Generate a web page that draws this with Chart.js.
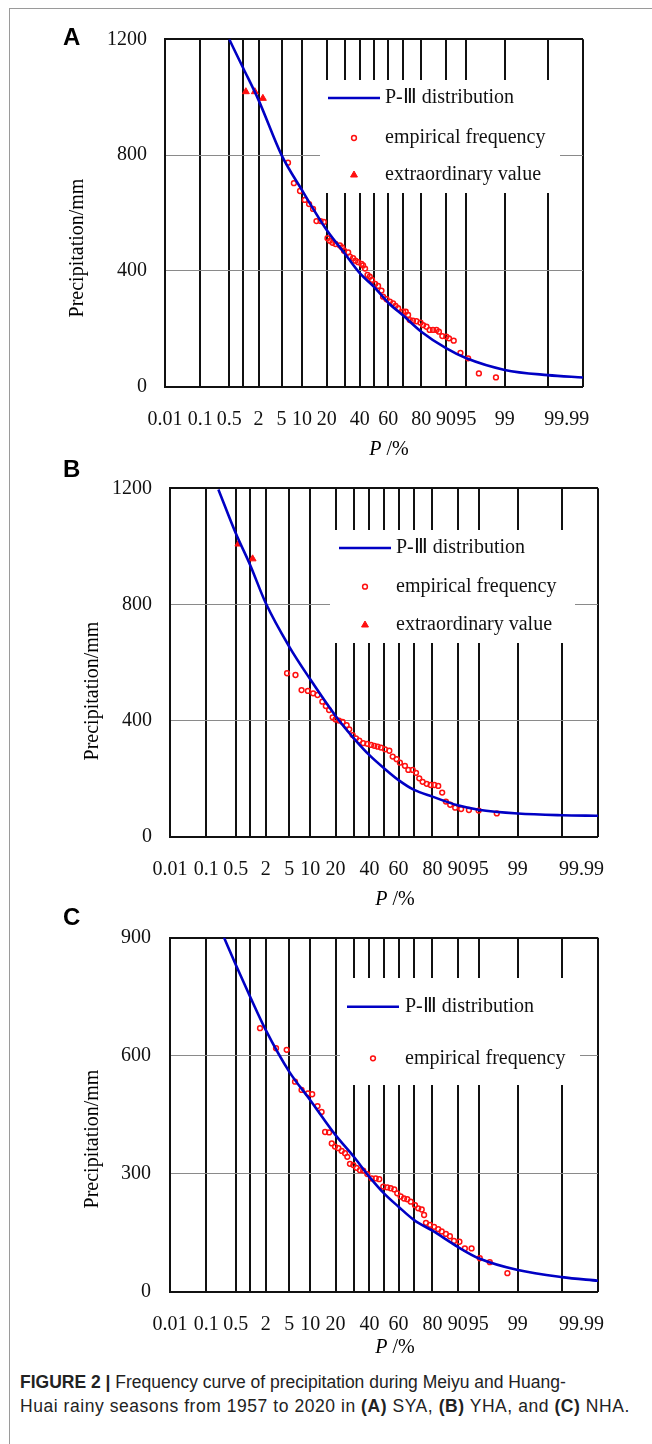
<!DOCTYPE html>
<html>
<head>
<meta charset="utf-8">
<script src="https://cdn.jsdelivr.net/npm/chart.js@4.4.1/dist/chart.umd.min.js"></script>
<style>
body{margin:0;width:652px;height:1444px;background:#fff;position:relative;overflow:hidden;font-family:'Liberation Serif','Times New Roman',serif}
.frame{position:absolute;left:9px;top:8px;width:800px;height:1600px;border-left:1px solid #9a9a9a;border-top:1px solid #9a9a9a}
canvas{position:absolute;left:0}
.tag{position:absolute;left:63px;font:bold 24px 'Liberation Sans',Arial,sans-serif;line-height:24px}
.yt{position:absolute;font-size:20px;white-space:nowrap;transform:translate(-50%,-50%) rotate(-90deg)}
.xt{position:absolute;font-size:20px;white-space:nowrap;transform:translate(-50%,-50%)}
.cap{position:absolute;left:20px;top:1370px;font:17.5px 'Liberation Sans',Arial,sans-serif;line-height:24px;color:#222;white-space:nowrap}
.cap span{letter-spacing:0.55px}
</style>
</head>
<body>
<div class="frame"></div>
<canvas id="cA" width="652" height="450" style="top:0"></canvas>
<canvas id="cB" width="652" height="450" style="top:450px"></canvas>
<canvas id="cC" width="652" height="450" style="top:900px"></canvas>

<div class="tag" style="top:25px">A</div>
<div class="tag" style="top:457px">B</div>
<div class="tag" style="top:905px">C</div>
<div class="yt" style="left:76px;top:248px">Precipitation/mm</div>
<div class="yt" style="left:91px;top:691px">Precipitation/mm</div>
<div class="yt" style="left:91px;top:1139px">Precipitation/mm</div>
<div class="xt" style="left:389px;top:448px"><i>P</i> /%</div>
<div class="xt" style="left:395px;top:898px"><i>P</i> /%</div>
<div class="xt" style="left:395px;top:1346px"><i>P</i> /%</div>
<div class="cap"><b>FIGURE 2 |</b> Frequency curve of precipitation during Meiyu and Huang-<br><span>Huai rainy seasons from 1957 to 2020 in <b>(A)</b> SYA, <b>(B)</b> YHA, and <b>(C)</b> NHA.</span></div>

<script>
// probability-paper axis (P in %)
const gridP=[0.01,0.1,0.5,1,2,5,10,20,30,40,50,60,70,80,90,95,99,99.9,99.99];
const xLabels=['0.01','0.1','0.5','2','5','10','20','40','60','80','90','95','99','99.99'];
const xLabelPos=[0.01,0.1,0.5,2,5,10,20,40,60,80,90,95,99,99.97];

// A — SYA
const curveA_P=[0.5,1,2,5,10,20,30,40,50,60,70,80,90,95,99,99.9,99.99];
const curveA_V=[1200,1100,990,800,679,541,461,392,345,290,245,190,133,98,58,40,32];
const empA_P=[6.3,7.7,9.4,10.9,12.4,13.9,15.3,17.1,18.6,20.4,21.6,23.0,24.7,27.2,28.5,29.7,32.3,33.4,35.5,37.1,38.9,41.2,42.3,43.7,45.4,47.0,48.6,50.8,52.9,55.3,56.4,58.8,61.1,63.3,64.9,66.6,69.8,71.4,72.8,73.8,75.6,77.5,79.6,80.9,82.5,83.9,85.3,86.7,87.6,88.8,90.1,90.9,92.2,93.8,95.3,96.9,98.5];
const empA_V=[774,703,676,645,631,614,572,572,569,513,504,497,493,488,481,470,464,449,444,435,430,424,419,408,386,380,369,355,348,332,311,302,294,288,279,271,259,259,248,230,228,226,221,213,207,196,196,196,190,175,173,167,159,117,98,46,32];
const extA_P=[1.13,1.7,2.4];
const extA_V=[1019,1019,996];

// B — YHA
const curveB_P=[0.2,0.5,1,2,5,10,20,30,40,50,60,70,80,90,95,99,99.9,99.99];
const curveB_V=[1196,1045,936,804,654,542,416,339,281,236,195,161,138,108,93,80,74,72];
const empB_P=[4.6,6.2,7.6,9.3,10.9,12.4,14.2,15.6,17.0,18.6,20.0,21.7,23.6,25.8,27.3,29.3,31.3,33.4,35.9,38.6,41.1,43.3,45.6,47.9,50.7,53.7,56.0,58.7,60.9,64.2,66.4,69.1,71.1,73.0,74.9,77.1,79.1,80.9,82.7,84.4,85.9,87.5,89.2,91.0,93.0,95.0,97.5];
const empB_V=[563,557,505,502,494,488,465,450,436,411,404,400,395,384,370,350,339,331,322,320,316,313,310,307,301,296,276,267,255,244,230,230,220,201,189,182,178,178,175,152,121,110,100,95,92,90,80];
const extB_P=[0.57,1.12];
const extB_V=[1008,957];

// C — NHA
const curveC_P=[0.27,0.5,1,2,5,10,20,30,40,50,60,70,80,90,95,99,99.9,99.99];
const curveC_V=[901,831,750,665,559,487,398,343,292,250,216,182,155,114,85,55,37,28];
const empC_P=[1.56,3.03,4.54,6.1,7.6,9.3,10.6,12.4,13.9,15.3,17.0,18.2,19.7,21.4,23.1,24.9,26.2,27.7,29.7,31.7,33.8,35.9,38.6,41.5,44.3,46.7,49.5,52.3,54.6,57.1,59.1,61.4,63.6,65.7,67.9,70.5,72.4,74.4,75.7,76.7,78.8,80.8,82.7,84.2,85.9,87.4,88.8,90.5,92.0,93.6,95.2,96.7,98.4];
const empC_V=[670,619,615,534,513,504,502,472,457,406,405,377,369,365,358,352,343,325,322,315,309,308,299,288,288,286,267,265,263,260,250,242,237,235,229,220,212,209,195,175,170,165,159,153,147,141,129,127,110,110,85,75,47];

// inverse normal CDF (Acklam) -> probability axis transform
function qnorm(p){
  const a=[-3.969683028665376e+01,2.209460984245205e+02,-2.759285104469687e+02,1.383577518672690e+02,-3.066479806614716e+01,2.506628277459239e+00];
  const b=[-5.447609879822406e+01,1.615858368580409e+02,-1.556989798598866e+02,6.680131188771972e+01,-1.328068155288572e+01];
  const c=[-7.784894002430293e-03,-3.223964580411365e-01,-2.400758277161838e+00,-2.549732539343734e+00,4.374664141464968e+00,2.938163982698783e+00];
  const d=[7.784695709041462e-03,3.224671290700398e-01,2.445134137142996e+00,3.754408661907416e+00];
  let q,r;
  if(p<0.02425){q=Math.sqrt(-2*Math.log(p));return (((((c[0]*q+c[1])*q+c[2])*q+c[3])*q+c[4])*q+c[5])/((((d[0]*q+d[1])*q+d[2])*q+d[3])*q+1);}
  if(p<=1-0.02425){q=p-0.5;r=q*q;return (((((a[0]*r+a[1])*r+a[2])*r+a[3])*r+a[4])*r+a[5])*q/(((((b[0]*r+b[1])*r+b[2])*r+b[3])*r+b[4])*r+1);}
  q=Math.sqrt(-2*Math.log(1-p));return -(((((c[0]*q+c[1])*q+c[2])*q+c[3])*q+c[4])*q+c[5])/((((d[0]*q+d[1])*q+d[2])*q+d[3])*q+1);
}
const z=P=>qnorm(P/100);
const pts=(P,V)=>P.map((p,i)=>({x:z(p),y:V[i]}));
const zLo=z(0.01), zHi=z(99.99);

const tickFont={family:"'Liberation Serif','Times New Roman',serif",size:20};

// legend drawn inside the plot over a white box
const boxLegend={
  id:'boxLegend',
  afterDraw(chart,args,o){
    const ctx=chart.ctx;
    ctx.save();
    ctx.fillStyle='#fff';
    ctx.fillRect(o.x,o.y,o.w,o.h);
    ctx.font="20px 'Liberation Serif','Times New Roman',serif";
    ctx.textBaseline='middle';
    chart.data.datasets.forEach((ds,i)=>{
      const y=o.rows[i];
      if(ds.showLine){
        ctx.strokeStyle=ds.borderColor;ctx.lineWidth=ds.borderWidth;
        ctx.beginPath();ctx.moveTo(o.cx-26,y);ctx.lineTo(o.cx+26,y);ctx.stroke();
      }else{
        ctx.fillStyle=ds.backgroundColor;ctx.strokeStyle=ds.borderColor;ctx.lineWidth=ds.borderWidth;
        Chart.helpers.drawPoint(ctx,{pointStyle:ds.pointStyle,radius:ds.pointRadius,borderWidth:ds.borderWidth,rotation:0},o.cx,y);
      }
      ctx.fillStyle='#111';
      ctx.fillText(ds.label,o.tx,y);
    });
    ctx.restore();
  }
};

function panel(id,cfg,curveP,curveV,empP,empV,extP,extV){
  const ds=[
    {label:'P-Ⅲ distribution',data:pts(curveP,curveV),showLine:true,borderColor:'#0000c4',backgroundColor:'#0000c4',borderWidth:2.6,pointRadius:0,cubicInterpolationMode:'monotone'},
    {label:'empirical frequency',data:pts(empP,empV),showLine:false,pointStyle:'circle',pointRadius:2.4,borderWidth:1.5,borderColor:'#ff1010',backgroundColor:'rgba(255,255,255,0)'}
  ];
  if(extP) ds.push({label:'extraordinary value',data:pts(extP,extV),showLine:false,pointStyle:'triangle',pointRadius:4,borderWidth:1,borderColor:'#ff1010',backgroundColor:'#ff1010'});
  new Chart(document.getElementById(id),{
    type:'scatter',
    data:{datasets:ds},
    plugins:[boxLegend],
    options:{
      responsive:false,animation:false,devicePixelRatio:1,
      layout:{padding:{left:0,top:cfg.top,right:cfg.right,bottom:0}},
      plugins:{legend:{display:false},tooltip:{enabled:false},boxLegend:cfg.legend},
      scales:{
        x:{type:'linear',min:zLo,max:zHi,position:'bottom',
          afterBuildTicks:s=>{s.ticks=gridP.map(p=>({value:z(p)}));},
          ticks:{display:false},
          grid:{color:'#111',lineWidth:2,drawTicks:false},
          border:{display:false},
          afterFit:s=>{s.height=0;s.paddingLeft=0;s.paddingRight=0;}},
        xl:{type:'linear',min:zLo,max:zHi,position:'bottom',
          afterBuildTicks:s=>{s.ticks=xLabelPos.map(p=>({value:z(p)}));},
          ticks:{autoSkip:false,maxRotation:0,padding:21,color:'#111',font:tickFont,callback:(v,i)=>xLabels[i]},
          grid:{display:false,drawTicks:false},
          border:{display:false},
          afterFit:s=>{s.height=cfg.xh;s.paddingLeft=0;s.paddingRight=0;}},
        y:{min:0,max:cfg.ymax,
          ticks:{stepSize:cfg.ystep,padding:cfg.ypad,color:'#111',font:tickFont,callback:v=>String(v)},
          grid:{drawTicks:false,
            color:c=>(c.tick.value===0||c.tick.value===cfg.ymax)?'#111':'#8a8a8a',
            lineWidth:c=>(c.tick.value===0||c.tick.value===cfg.ymax)?2:1},
          border:{color:'#111',width:2},
          afterFit:s=>{s.width=cfg.yw;s.paddingTop=0;s.paddingBottom=0;}}
      }
    }
  });
}

panel('cA',{top:39.3,right:69,xh:63.3,yw:165,ymax:1200,ystep:400,ypad:18,
  legend:{x:320,y:80,w:240,h:113,cx:354,tx:385,rows:[98,138,175]}},
  curveA_P,curveA_V,empA_P,empA_V,extA_P,extA_V);
panel('cB',{top:38.3,right:54,xh:63.3,yw:170,ymax:1200,ystep:400,ypad:18,
  legend:{x:330,y:80,w:245,h:113,cx:365,tx:396,rows:[98,136.7,175]}},
  curveB_P,curveB_V,empB_P,empB_V,extB_P,extB_V);
panel('cC',{top:37.7,right:54,xh:58.3,yw:170,ymax:900,ystep:300,ypad:19,
  legend:{x:340,y:78,w:240,h:107,cx:373,tx:405,rows:[106.7,158.3]}},
  curveC_P,curveC_V,empC_P,empC_V,null,null);
</script>
</body>
</html>
